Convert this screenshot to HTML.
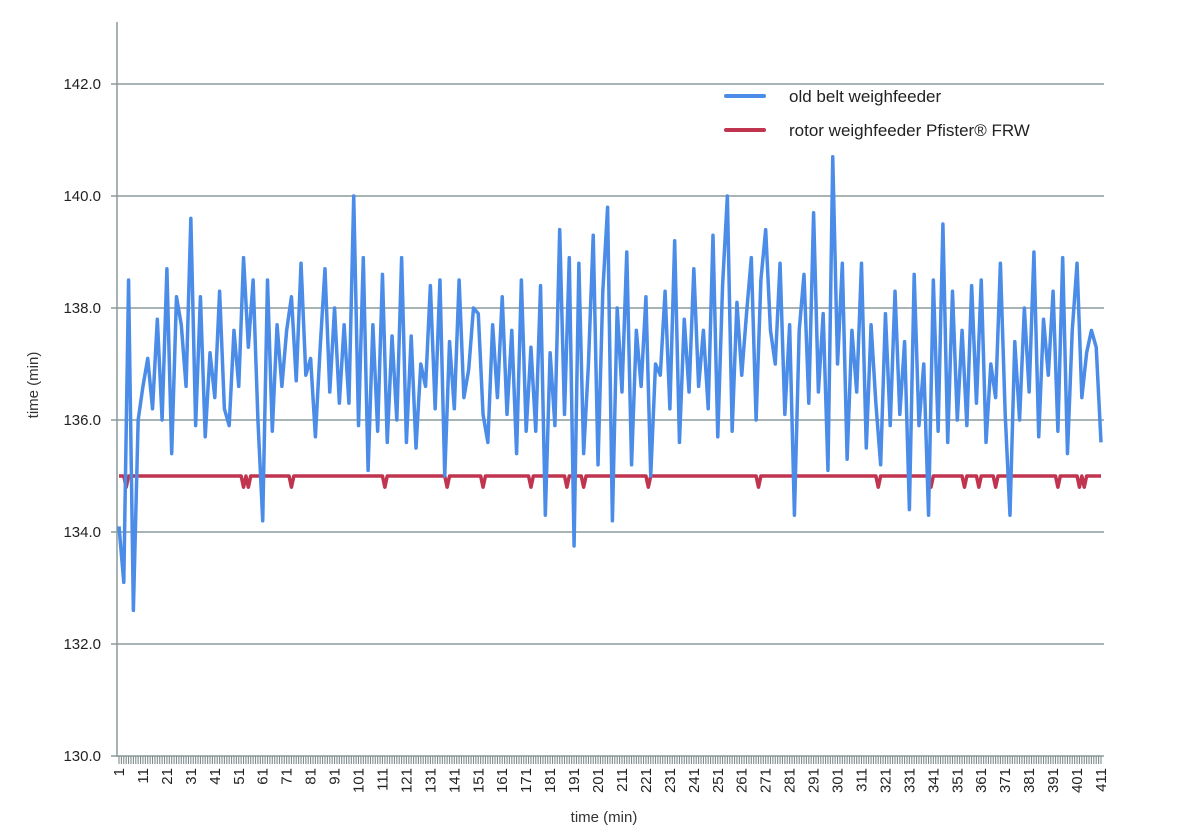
<!DOCTYPE html>
<html><head><meta charset="utf-8"><style>
body{margin:0;background:#fff;}
svg{display:block;font-family:"Liberation Sans",sans-serif;}
</style></head><body>
<svg id="chart" width="1200" height="835" viewBox="0 0 1200 835" xmlns="http://www.w3.org/2000/svg">
<g id="grid"></g>
<g id="yticks"></g>
<g id="xticks"></g>
<g id="series"></g>
<text transform="translate(38,385) rotate(-90)" text-anchor="middle" font-size="15" fill="#333">time (min)</text>
<text x="604" y="822" text-anchor="middle" font-size="15" fill="#333">time (min)</text>
<g>
<line x1="726" y1="96" x2="764" y2="96" stroke="#4a8ce8" stroke-width="4" stroke-linecap="round"/>
<text x="789" y="102" font-size="17" fill="#222">old belt weighfeeder</text>
<line x1="726" y1="130" x2="764" y2="130" stroke="#c0344f" stroke-width="4" stroke-linecap="round"/>
<text x="789" y="136" font-size="17" fill="#222">rotor weighfeeder Pfister® FRW</text>
</g>
</svg>
<script>
// blue series sampled every 2 minutes starting at minute 1
const beltValues=[134.1,133.1,138.5,132.6,136.0,136.6,137.1,136.2,137.8,136.0,
138.7,135.4,138.2,137.7,136.6,139.6,135.9,138.2,135.7,137.2,
136.4,138.3,136.2,135.9,137.6,136.6,138.9,137.3,138.5,136.0,
134.2,138.5,135.8,137.7,136.6,137.6,138.2,136.7,138.8,136.8,
137.1,135.7,137.3,138.7,136.5,138.0,136.3,137.7,136.3,140.0,
135.9,138.9,135.1,137.7,135.8,138.6,135.6,137.5,136.0,138.9,
135.6,137.5,135.5,137.0,136.6,138.4,136.2,138.5,135.0,137.4,
136.2,138.5,136.4,136.9,138.0,137.9,136.1,135.6,137.7,136.4,
138.2,136.1,137.6,135.4,138.5,135.8,137.3,135.8,138.4,134.3,
137.2,135.9,139.4,136.1,138.9,133.75,138.8,135.4,137.0,139.3,
135.2,138.3,139.8,134.2,138.0,136.5,139.0,135.2,137.6,136.6,
138.2,135.0,137.0,136.8,138.3,136.2,139.2,135.6,137.8,136.5,
138.7,136.6,137.6,136.2,139.3,135.7,138.4,140.0,135.8,138.1,
136.8,137.9,138.9,136.0,138.5,139.4,137.6,137.0,138.8,136.1,
137.7,134.3,137.6,138.6,136.3,139.7,136.5,137.9,135.1,140.7,
137.0,138.8,135.3,137.6,136.5,138.8,135.5,137.7,136.3,135.2,
137.9,135.9,138.3,136.1,137.4,134.4,138.6,135.9,137.0,134.3,
138.5,135.8,139.5,135.6,138.3,136.0,137.6,135.9,138.4,136.3,
138.5,135.6,137.0,136.4,138.8,136.1,134.3,137.4,136.0,138.0,
136.5,139.0,135.7,137.8,136.8,138.3,135.8,138.9,135.4,137.6,
138.8,136.4,137.2,137.6,137.3,135.6];
const beltStep=2;
const rotorBase=135.0;
const rotorDipValue=134.8;
const rotorDipMinutes=[4,53,55,73,112,138,153,173,188,195,222,268,318,340,354,360,367,393,402,404];
const yTicks=[130,132,134,136,138,140,142];
const yTickLabels=["130.0","132.0","134.0","136.0","138.0","140.0","142.0"];
const totalMinutes=411;

const NS="http://www.w3.org/2000/svg";
const X0=119,XS=(1101-119)/410,Y0=756,YS=56;
const xs=m=>X0+(m-1)*XS;
const ys=v=>Y0-(v-130)*YS;
function mk(tag,attrs,parent){const e=document.createElementNS(NS,tag);for(const k in attrs)e.setAttribute(k,attrs[k]);parent.appendChild(e);return e;}
const grid=document.getElementById('grid'),yt=document.getElementById('yticks'),xt=document.getElementById('xticks'),ser=document.getElementById('series');

yTicks.forEach((v,i)=>{
  if(v>130){const l=mk('line',{x1:117,x2:1104,y1:ys(v),y2:ys(v),stroke:'#8c9b9b','stroke-width':1.5},grid);
  
  }
  const tk=mk('line',{x1:111,x2:117,y1:ys(v),y2:ys(v),stroke:'#8c9b9b','stroke-width':1.5},yt);
  
  
  const t=mk('text',{x:101,y:ys(v)+5,'text-anchor':'end','font-size':15,fill:'#222'},yt);
  t.textContent=yTickLabels[i];
  
  
});
const ax=mk('line',{x1:117,x2:117,y1:22,y2:757,stroke:'#8c9b9b','stroke-width':1.5},yt);


const bx=mk('line',{x1:117,x2:1104,y1:756,y2:756,stroke:'#8c9b9b','stroke-width':1.5},xt);


let hatch='';
for(let m=1;m<=totalMinutes;m++){const x=xs(m).toFixed(2);hatch+=`M${x} 756V764`;}
const hp=mk('path',{d:hatch,stroke:'#7f8c8c','stroke-width':1.1,fill:'none'},xt);


for(let m=1;m<=totalMinutes;m+=10){
  const t=mk('text',{transform:`translate(${xs(m)+5},768) rotate(-90)`,'text-anchor':'end','font-size':15,fill:'#222'},xt);
  t.textContent=String(m);
  
  
}
// rotor series
const rv=[];for(let m=1;m<=totalMinutes;m++)rv.push(rotorDipMinutes.includes(m)?rotorDipValue:rotorBase);
const rp=mk('polyline',{points:rv.map((v,i)=>xs(i+1).toFixed(2)+','+ys(v).toFixed(2)).join(' '),fill:'none',stroke:'#c0344f','stroke-width':3.5,'stroke-linejoin':'round'},ser);


// belt series
const bp=mk('polyline',{points:beltValues.map((v,i)=>xs(1+i*beltStep).toFixed(2)+','+ys(v).toFixed(2)).join(' '),fill:'none',stroke:'#4a8ce8','stroke-width':3.5,'stroke-linejoin':'round'},ser);


</script>
</body></html>
